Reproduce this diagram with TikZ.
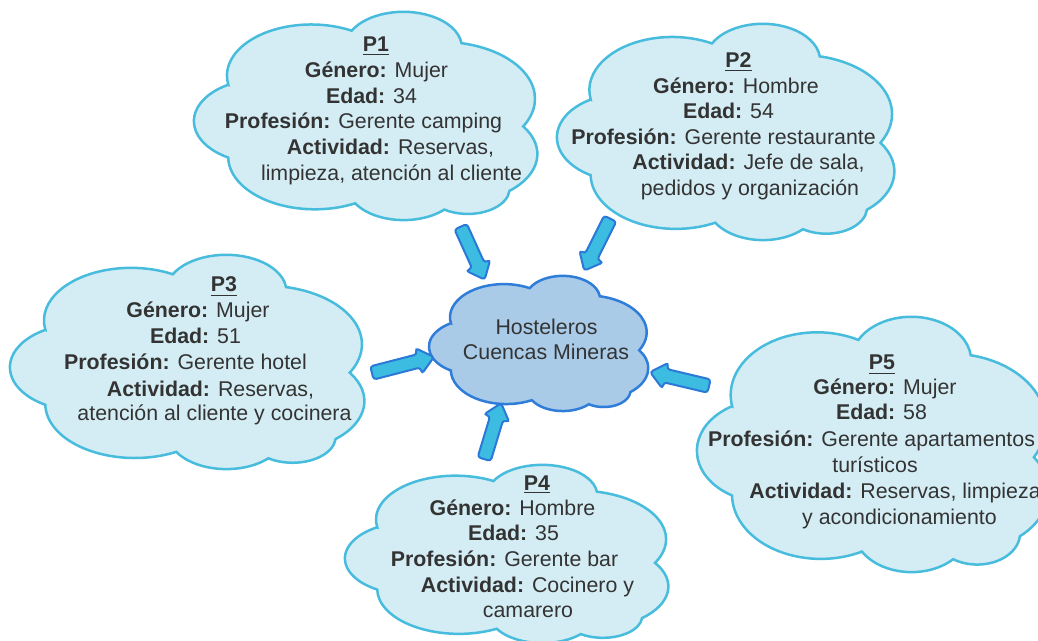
\documentclass[tikz,border=0pt]{standalone}
\usepackage{fontspec}
\setmainfont{Liberation Sans}
\usetikzlibrary{shapes.arrows,calc}

\definecolor{cloudfill}{HTML}{D4EDF4}
\definecolor{cloudline}{HTML}{48BCDD}
\definecolor{hubfill}{HTML}{A9CBE8}
\definecolor{hubline}{HTML}{2F7DD8}
\definecolor{arrowfill}{HTML}{3CBCE0}
\definecolor{arrowline}{HTML}{2A79D8}
\definecolor{textgray}{HTML}{333333}

% Cloud outline in a 100 x 100 box (y pointing down): eight round puffs
\newcommand\cloudoutline{(10,35)
 arc[start angle=169.7, end angle=298.6, radius=24.6]
 arc[start angle=-152.2, end angle=-6.6, radius=17.04]
 arc[start angle=-77.5, end angle=29.06, radius=27.36]
 arc[start angle=-34.64, end angle=49.34, radius=23.36]
 arc[start angle=5.22, end angle=124.08, radius=12.21]
 arc[start angle=43.8, end angle=149.38, radius=16.43]
 arc[start angle=62.44, end angle=179.05, radius=25.3]
 arc[start angle=120.5, end angle=239.5, radius=20.31]
 -- cycle}

% #1,#2: top-left corner; #3,#4: box size / 200 (in pt); #5: path style
\newcommand\cloudat[5]{\begin{scope}[shift={(#1,#2)},x=#3pt,y=-#4pt]
  \path[#5] \cloudoutline;
\end{scope}}

% one line of text: name, centre x, baseline y, content
\newcommand\tline[4]{\node[txt] (#1) at (#2,#3) {#4};}

\tikzset{
  person/.style={draw=cloudline, fill=cloudfill, line width=1.25pt},
  hub/.style={draw=hubline, fill=hubfill, line width=1.25pt},
  txt/.style={text=textgray, font=\fontsize{10.67}{12.9}\selectfont, inner sep=0pt, anchor=base},
  barrow/.style={single arrow, draw=arrowline, fill=arrowfill, line width=1pt,
    inner xsep=0pt, inner ysep=2.9pt, single arrow head extend=3.2pt,
    single arrow tip angle=80, rounded corners=1.5pt},
}

% block arrow between two named coordinates
\newcommand\blockarrow[3]{%
  \path let \p1=($(#3)-(#2)$), \n1={atan2(\y1,\x1)}, \n2={veclen(\x1,\y1)} in
    node[barrow, rotate=\n1, minimum height=\n2] (#1) at ($(#2)!0.5!(#3)$) {};}

\begin{document}
\begin{tikzpicture}[x=0.5pt,y=-0.5pt]
\useasboundingbox (0,0) rectangle (1038,641);
\clip (0,0) rectangle (1038,641);
\fill[white] (0,0) rectangle (1038,641);

% clouds
\cloudat{194}{12}{1.715}{1.04}{person}
\cloudat{557}{24}{1.685}{1.08}{person}
\cloudat{10}{255}{1.77}{1.07}{person}
\cloudat{345}{465}{1.615}{0.89}{person}
\cloudat{697}{317}{1.755}{1.275}{person}
\cloudat{429}{276}{1.095}{0.675}{hub}

% centre
\tline{hubA}{546.5}{335}{Hosteleros}
\tline{hubB}{546}{360}{Cuencas Mineras}

% P1
\tline{p1t}{376}{52}{\underline{\textbf{P1}}}
\tline{p1g}{376.5}{78}{\textbf{Género:} Mujer}
\tline{p1e}{371.5}{104}{\textbf{Edad:} 34}
\tline{p1p}{363.5}{129}{\textbf{Profesión:} Gerente camping}
\tline{p1a}{390.5}{155}{\textbf{Actividad:} Reservas,}
\tline{p1b}{391.5}{181}{limpieza, atención al cliente}

% P2
\tline{p2t}{738.5}{68}{\underline{\textbf{P2}}}
\tline{p2g}{736}{94}{\textbf{Género:} Hombre}
\tline{p2e}{728.5}{119}{\textbf{Edad:} 54}
\tline{p2p}{723.5}{145}{\textbf{Profesión:} Gerente restaurante}
\tline{p2a}{748.5}{170}{\textbf{Actividad:} Jefe de sala,}
\tline{p2b}{750}{196}{pedidos y organización}

% P3
\tline{p3t}{224}{292}{\underline{\textbf{P3}}}
\tline{p3g}{198}{318}{\textbf{Género:} Mujer}
\tline{p3e}{195.5}{344}{\textbf{Edad:} 51}
\tline{p3p}{185.5}{370}{\textbf{Profesión:} Gerente hotel}
\tline{p3a}{210.5}{396}{\textbf{Actividad:} Reservas,}
\tline{p3b}{214.5}{421}{atención al cliente y cocinera}

% P4
\tline{p4t}{537}{490}{\underline{\textbf{P4}}}
\tline{p4g}{512.5}{515}{\textbf{Género:} Hombre}
\tline{p4e}{513.5}{540}{\textbf{Edad:} 35}
\tline{p4p}{504.5}{566}{\textbf{Profesión:} Gerente bar}
\tline{p4a}{527.5}{592}{\textbf{Actividad:} Cocinero y}
\tline{p4b}{528}{617}{camarero}

% P5
\tline{p5t}{882}{370}{\underline{\textbf{P5}}}
\tline{p5g}{885}{394}{\textbf{Género:} Mujer}
\tline{p5e}{881.5}{420}{\textbf{Edad:} 58}
\tline{p5p}{871.5}{446}{\textbf{Profesión:} Gerente apartamentos}
\tline{p5q}{875}{472}{turísticos}
\tline{p5a}{895}{498}{\textbf{Actividad:} Reservas, limpieza}
\tline{p5b}{899.5}{524}{y acondicionamiento}

% arrows towards the centre
\coordinate (a1t) at (459,223); \coordinate (a1h) at (483,276);
\coordinate (a2t) at (612,215); \coordinate (a2h) at (586,267);
\coordinate (a3t) at (368,374); \coordinate (a3h) at (430,358);
\coordinate (a4t) at (483,463); \coordinate (a4h) at (500,407);
\coordinate (a5t) at (713,387); \coordinate (a5h) at (654,373);
\blockarrow{arr1}{a1t}{a1h}
\blockarrow{arr2}{a2t}{a2h}
\blockarrow{arr3}{a3t}{a3h}
\blockarrow{arr4}{a4t}{a4h}
\blockarrow{arr5}{a5t}{a5h}
\end{tikzpicture}
\end{document}
